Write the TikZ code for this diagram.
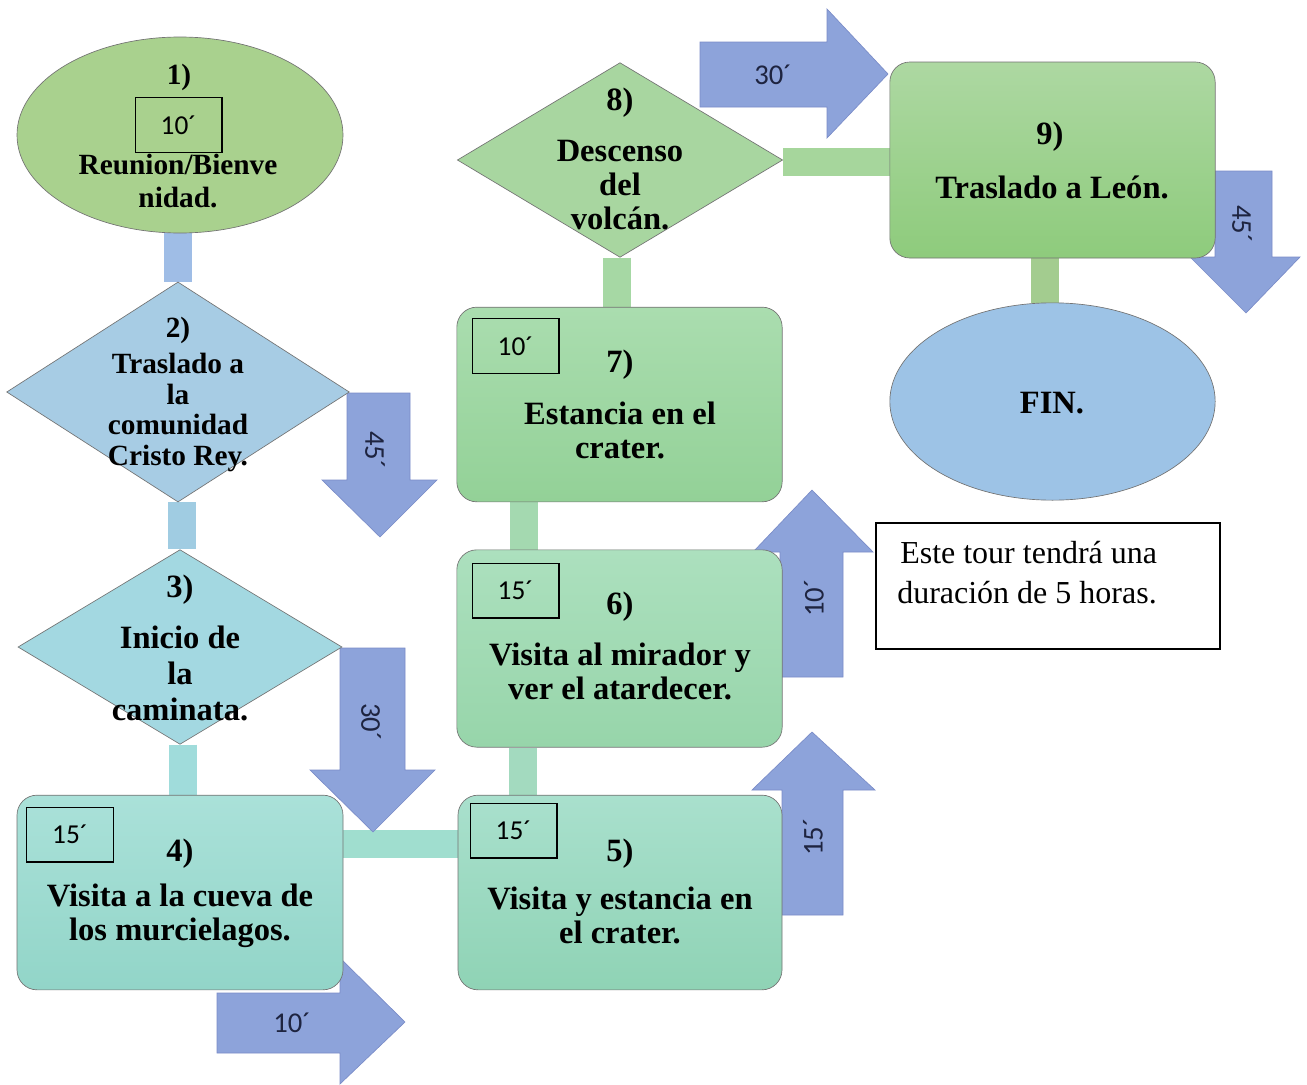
\documentclass[tikz,border=0pt]{standalone}
\usepackage{fontspec}
\setmainfont{Liberation Serif}
\newfontfamily\carl{Carlito}
\usetikzlibrary{shapes.geometric}
\pgfdeclarelayer{bars}
\pgfdeclarelayer{arrs}
\pgfdeclarelayer{paper}
\pgfsetlayers{paper,bars,arrs,main}
\definecolor{arrfill}{HTML}{8DA3DA}
\definecolor{arrline}{HTML}{7A8CC8}
\definecolor{arrtext}{HTML}{1E2440}
\definecolor{cA}{HTML}{A9D18E}
\definecolor{cB}{HTML}{A7CCE4}
\definecolor{cC}{HTML}{A3D8E1}
\definecolor{cDt}{HTML}{AAE1D9}
\definecolor{cDb}{HTML}{92D5C8}
\definecolor{cEt}{HTML}{A9E0CD}
\definecolor{cEb}{HTML}{8FD3B5}
\definecolor{cFt}{HTML}{ACE0BE}
\definecolor{cFb}{HTML}{97D5AA}
\definecolor{cGt}{HTML}{AADDAF}
\definecolor{cGb}{HTML}{93D197}
\definecolor{cH}{HTML}{A8D6A0}
\definecolor{cIt}{HTML}{ADD8A2}
\definecolor{cIb}{HTML}{8ECB7C}
\definecolor{cJ}{HTML}{9DC3E6}
\definecolor{k12}{HTML}{9FBDE6}
\definecolor{k23}{HTML}{A0CCE2}
\definecolor{k34}{HTML}{A0DCDB}
\definecolor{k45}{HTML}{A0DECF}
\definecolor{k56}{HTML}{A3DABF}
\definecolor{k67}{HTML}{A4D9B0}
\definecolor{k78}{HTML}{A6D8A4}
\definecolor{k89}{HTML}{A6D69C}
\definecolor{k9F}{HTML}{A3CC8F}
\begin{document}
\begin{tikzpicture}[x=0.75pt,y=-0.75pt,
  shapeline/.style={draw=black!55, line width=0.5pt},
  ell/.style={shapeline, ellipse, inner sep=0pt},
  dia/.style={shapeline, diamond, inner sep=0pt},
  rbox/.style={shapeline, rectangle, rounded corners=15pt, inner sep=0pt},
  bar/.style={line width=21pt},
  arr/.style={fill=arrfill, draw=arrline, line width=0.5pt, line join=miter},
  alab/.style={font=\carl\fontsize{21.5}{23}\selectfont, text=arrtext, inner sep=0pt},
  tbox/.style={draw=black, line width=1pt, inner sep=0pt, minimum width=65pt, minimum height=41pt, font=\carl\fontsize{20.5}{22}\selectfont},
  sm/.style={font=\bfseries\fontsize{22}{24.75}\selectfont, align=center, inner sep=0pt},
  sm2/.style={font=\bfseries\fontsize{22}{22.9}\selectfont, align=center, inner sep=0pt},
  bg/.style={font=\bfseries\fontsize{24.4}{25.5}\selectfont, align=center, inner sep=0pt},
  bg3/.style={font=\bfseries\fontsize{24.4}{27}\selectfont, align=center, inner sep=0pt}
]
\useasboundingbox (0,0) rectangle (1307,1085);
\begin{pgfonlayer}{paper}
\fill[white] (0,0) rectangle (1307,1085);
\end{pgfonlayer}

% main shapes
\node[ell, fill=cA, minimum width=244.5pt, minimum height=147pt] (n1) at (180,135) {};
\node[dia, fill=cB, minimum width=257pt, minimum height=165pt] (n2) at (178,392) {};
\node[dia, fill=cC, minimum width=243pt, minimum height=146pt] (n3) at (180,647) {};
\node[rbox, top color=cDt, bottom color=cDb, minimum width=244.5pt, minimum height=146pt] (n4) at (180,892.5) {};
\node[rbox, top color=cEt, bottom color=cEb, minimum width=243pt, minimum height=146pt] (n5) at (620,892.5) {};
\node[rbox, top color=cFt, bottom color=cFb, minimum width=244pt, minimum height=148pt] (n6) at (619.5,648.5) {};
\node[rbox, top color=cGt, bottom color=cGb, minimum width=244pt, minimum height=146pt] (n7) at (619.5,404.5) {};
\node[dia, fill=cH, minimum width=244pt, minimum height=146pt] (n8) at (620,160) {};
\node[rbox, top color=cIt, bottom color=cIb, minimum width=244pt, minimum height=147pt] (n9) at (1052.5,160) {};
\node[ell, fill=cJ, minimum width=244pt, minimum height=148pt] (nF) at (1052.5,401.5) {};
\node[draw=black, line width=1pt, minimum width=258pt, minimum height=94.5pt, inner sep=0pt] (note) at (1048,586) {};

% connectors
\begin{pgfonlayer}{bars}
\draw[bar, draw=k12] (n1.south -| 178,0) -- (n2.north -| 178,0);
\draw[bar, draw=k23] (n2.south -| 182,0) -- (n3.north -| 182,0);
\draw[bar, draw=k34] (n3.south -| 183,0) -- (n4.north -| 183,0);
\draw[bar, draw=k45] (n4.east |- 0,844) -- (n5.west |- 0,844);
\draw[bar, draw=k56] (n6.south -| 523,0) -- (n5.north -| 523,0);
\draw[bar, draw=k67] (n7.south -| 524,0) -- (n6.north -| 524,0);
\draw[bar, draw=k78] (n8.south -| 617,0) -- (n7.north -| 617,0);
\draw[bar, draw=k89] (n8.east |- 0,161.5) -- (n9.west |- 0,161.5);
\draw[bar, draw=k9F] (n9.south -| 1045,0) -- (nF.north -| 1045,0);
\end{pgfonlayer}

% block arrows with durations
\begin{pgfonlayer}{arrs}
\draw[arr] (700,42) -- (827,42) -- (827,9) -- (888,74) -- (827,138) -- (827,107) -- (700,107) -- cycle;
\draw[arr] (347,393) -- (410,393) -- (410,480) -- (437,480) -- (380,537) -- (322,480) -- (347,480) -- cycle;
\draw[arr] (340,648) -- (405,648) -- (405,770) -- (435,770) -- (373,832) -- (310,770) -- (340,770) -- cycle;
\draw[arr] (217,993) -- (340,993) -- (340,958) -- (405,1022) -- (340,1084) -- (340,1053) -- (217,1053) -- cycle;
\draw[arr] (782,915) -- (782,790) -- (752,790) -- (812,732) -- (875,790) -- (843,790) -- (843,915) -- cycle;
\draw[arr] (780,677) -- (780,552) -- (753,552) -- (812,490) -- (873,552) -- (843,552) -- (843,677) -- cycle;
\draw[arr] (1215,171) -- (1272,171) -- (1272,257) -- (1300,257) -- (1246,313) -- (1190,257) -- (1215,257) -- cycle;
\node[alab] (l30a) at (773,75) {30´};
\node[alab, rotate=-90] (l45a) at (375,450) {45´};
\node[alab, rotate=-90] (l30b) at (371,722) {30´};
\node[alab] (l10a) at (292,1023) {10´};
\node[alab, rotate=90] (l15) at (813,837) {15´};
\node[alab, rotate=90] (l10b) at (814,598) {10´};
\node[alab, rotate=-90] (l45b) at (1242,224) {45´};
\end{pgfonlayer}

% duration boxes
\node[tbox] (s1) at (178.5,125) {10´};
\node[tbox] (s4) at (70,834.5) {15´};
\node[tbox] (s5) at (513.5,830.5) {15´};
\node[tbox] (s6) at (515.5,590.5) {15´};
\node[tbox] (s7) at (515.5,346) {10´};

% texts
\node[sm] (t1n) at (179,77) {1)};
\node[sm] (t1) at (178,181.5) {Reunion/Bienve\\nidad.};
\node[sm2] (t2n) at (178,330) {2)};
\node[sm2] (t2) at (178,412.5) {Traslado a\\la\\comunidad\\Cristo Rey.};
\node[bg3] (t3n) at (180,590) {3)};
\node[bg3] (t3) at (180,673) {Inicio de\\la\\caminata.};
\node[bg] (t4n) at (180,854) {4)};
\node[bg] (t4) at (180,915.5) {Visita a la cueva de\\los murcielagos.};
\node[bg] (t5n) at (620,854) {5)};
\node[bg] (t5) at (620,915.5) {Visita y estancia en\\el crater.};
\node[bg] (t6n) at (620,607) {6)};
\node[bg] (t6) at (620,671.5) {Visita al mirador y\\ver el atardecer.};
\node[bg] (t7n) at (620,365) {7)};
\node[bg] (t7) at (620,430) {Estancia en el\\crater.};
\node[bg] (t8n) at (620,103) {8)};
\node[bg] (t8) at (620,185) {Descenso\\del\\volcán.};
\node[bg] (t9n) at (1050,137) {9)};
\node[bg] (t9) at (1052,187) {Traslado a León.};
\node[bg] (tF) at (1052,403) {FIN.};
\node[font=\fontsize{24}{30}\selectfont, align=left, anchor=west, inner sep=0pt] (tnote) at (897,573) {\hspace*{2.25pt}Este tour tendrá una\\duración de 5 horas.};
\end{tikzpicture}
\end{document}
